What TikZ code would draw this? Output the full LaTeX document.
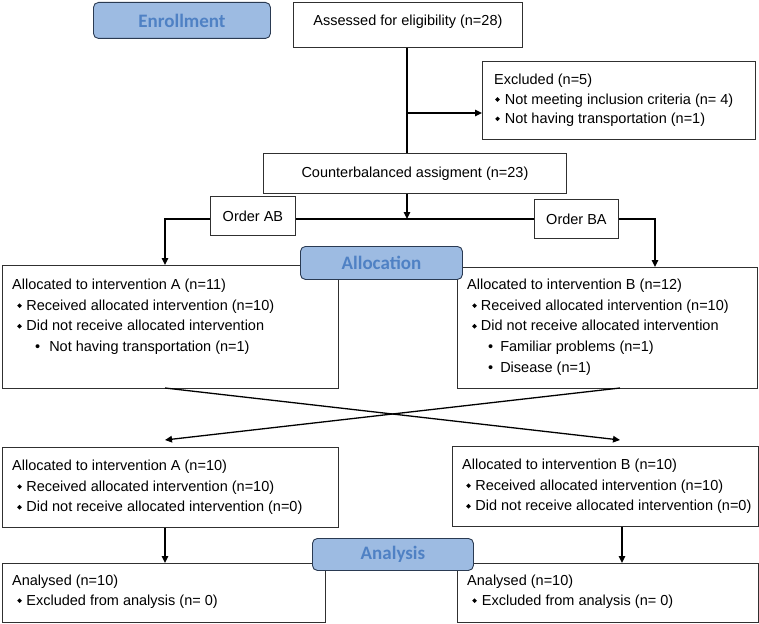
\documentclass[tikz,border=0pt]{standalone}
\usepackage{fontspec}
\setmainfont{Liberation Sans}
\newfontfamily\labelfont{Carlito}
\usetikzlibrary{arrows.meta}
\definecolor{lblfill}{HTML}{9DBBE2}
\definecolor{lbldraw}{HTML}{2A3A52}
\definecolor{lbltext}{HTML}{4F81C4}
\definecolor{boxdraw}{HTML}{303030}
\newcommand\dm{\raisebox{2.3pt}{\rotatebox{45}{\rule{3.3pt}{3.3pt}}}}
\newcommand\bl[2]{\hspace*{#1}\dm\hspace{#2}}
\begin{document}
\begin{tikzpicture}[x=1pt,y=-1pt,
  box/.style={draw=boxdraw,line width=0.9pt,fill=white,inner sep=0pt,anchor=north west},
  lbl/.style={draw=lbldraw,line width=0.9pt,fill=lblfill,rounded corners=5pt,inner sep=0pt,anchor=north west,
     text=lbltext,font=\labelfont\bfseries\fontsize{19}{22}\selectfont},
  txt/.style={inner sep=0pt,anchor=north west,align=left,font=\fontsize{14.5}{20.6}\selectfont},
  ctxt/.style={inner sep=0pt,font=\fontsize{14.5}{20.6}\selectfont},
  conn/.style={line width=1.3pt,black},
  arr/.style={conn,-{Triangle[length=7pt,width=6.5pt]}}]
\useasboundingbox (0,0) rectangle (759,623);
% labels
\node[lbl,minimum width=177pt,minimum height=36pt] (enr) at (93,2) {Enrollment};
% boxes
\node[box,minimum width=229pt,minimum height=45pt] (assess) at (293,2) {};
\node[ctxt] (assesst) at ([yshift=-20pt]assess.north) {Assessed for eligibility (n=28)};
\node[box,minimum width=273pt,minimum height=78pt] (excl) at (482,61) {};
\node[txt] (exclt) at ([shift={(12,13)}]excl.north west)
  {Excluded (n=5)\\[-1.2pt]\bl{1pt}{5pt}Not meeting inclusion criteria (n= 4)\\[-1.2pt]\bl{1pt}{5pt}Not having transportation (n=1)};
\node[box,minimum width=303pt,minimum height=40pt] (cb) at (263,153) {};
\node[ctxt] (cbt) at (cb.center) {Counterbalanced assigment (n=23)};
\node[box,minimum width=85pt,minimum height=39pt] (ab) at (210,196) {};
\node[ctxt] (abt) at (ab.center) {Order AB};
\node[box,minimum width=84pt,minimum height=39pt] (ba) at (534,199) {};
\node[ctxt] (bat) at (ba.center) {Order BA};
\node[box,minimum width=336pt,minimum height=123pt] (aA) at (2,265) {};
\node[txt] (aAt) at ([shift={(10,14)}]aA.north west)
  {Allocated to intervention A (n=11)\\\bl{5pt}{4.5pt}Received allocated intervention (n=10)\\\bl{5pt}{4.5pt}Did not receive allocated intervention\\\hspace*{23pt}\textbullet\hspace{9pt}Not having transportation (n=1)};
\node[box,minimum width=300pt,minimum height=121pt] (aB) at (457,267) {};
\node[txt] (aBt) at ([shift={(10,12)}]aB.north west)
  {Allocated to intervention B (n=12)\\\bl{5pt}{4pt}Received allocated intervention (n=10)\\\bl{5pt}{4pt}Did not receive allocated intervention\\\hspace*{21pt}\textbullet\hspace{7pt}Familiar problems (n=1)\\\hspace*{21pt}\textbullet\hspace{7pt}Disease (n=1)};
\node[lbl,minimum width=162pt,minimum height=33pt] (alloc) at (300,246) {Allocation};
\node[box,minimum width=336pt,minimum height=80pt] (aA2) at (2,447) {};
\node[txt] (aA2t) at ([shift={(10,13)}]aA2.north west)
  {Allocated to intervention A (n=10)\\\bl{5pt}{4.5pt}Received allocated intervention (n=10)\\\bl{5pt}{4.5pt}Did not receive allocated intervention (n=0)};
\node[box,minimum width=306pt,minimum height=80pt] (aB2) at (452,446) {};
\node[txt] (aB2t) at ([shift={(10,13)}]aB2.north west)
  {Allocated to intervention B (n=10)\\\bl{4pt}{4.5pt}Received allocated intervention (n=10)\\\bl{4pt}{4.5pt}Did not receive allocated intervention (n=0)};
\node[box,minimum width=323pt,minimum height=59pt] (anA) at (2,563) {};
\node[txt] (anAt) at ([shift={(10,12)}]anA.north west)
  {Analysed (n=10)\\[-1pt]\bl{5pt}{4.5pt}Excluded from analysis (n= 0)};
\node[box,minimum width=301pt,minimum height=59pt] (anB) at (457,563) {};
\node[txt] (anBt) at ([shift={(10,12)}]anB.north west)
  {Analysed (n=10)\\[-1pt]\bl{5pt}{5pt}Excluded from analysis (n= 0)};
\node[lbl,minimum width=161pt,minimum height=32pt] (anl) at (312,538) {Analysis};
% connectors
\coordinate (trunk) at (407,0);
\coordinate (exj) at (407,113);
\draw[conn] (assess.south -| trunk) -- (cb.north -| trunk);
\draw[arr] (exj) -- (exj -| excl.west);
\coordinate (mid) at (407,219);
\draw[arr] (cb.south -| trunk) -- (mid);
\draw[conn] (ab.east |- mid) -- (ba.west |- mid);
\coordinate (abL) at (165,219);
\coordinate (baR) at (655,219);
\draw[arr] (ab.west |- mid) -- (abL) -- (abL |- aA.north);
\draw[arr] (ba.east |- mid) -- (baR) -- (baR |- aB.north);
\coordinate (aAb) at (165,388);
\coordinate (aBb) at (620,388);
\draw[arr] (aAb) -- (620,440);
\draw[arr] (aBb) -- (165,440);
\draw[arr] (aA2.south -| aAb) -- (anA.north -| aAb);
\coordinate (b2x) at (622,500);
\draw[arr] (aB2.south -| b2x) -- (anB.north -| b2x);
\end{tikzpicture}
\end{document}
